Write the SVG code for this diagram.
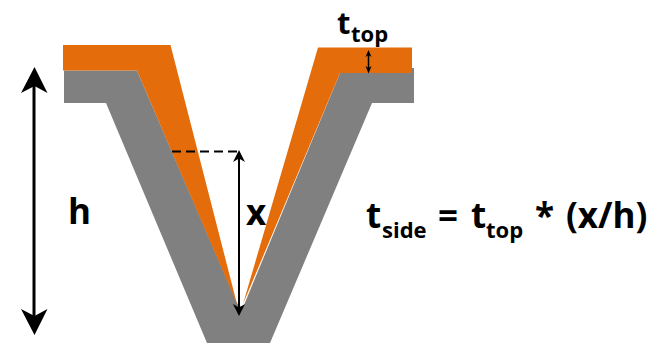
<svg xmlns="http://www.w3.org/2000/svg" width="667" height="343" viewBox="0 0 667 343">
<style>
text{font-family:"Open Sans","Noto Sans",sans-serif;font-weight:700;fill:#000}
.m{font-size:35px}.s{font-size:22px}
.a{stroke:#000;fill:none}
.h{fill:#000;stroke:none}
</style>
<rect width="667" height="343" fill="#fff"/>
<g id="gray-layer"><path d="M64 70.500H137L237 303L241 307L244 305L340 73H412V68H414V103H372L270 343H207L106 103H64Z" fill="#808080"/></g>
<g id="orange-left"><path d="M63 45H170.500L237 304L137 70.500H63Z" fill="#e46c0a"/></g>
<g id="orange-right"><path d="M318 47.500H412V73H340L243 304Z" fill="#e46c0a"/></g>
<g id="connectors">
<path class="a" stroke-width="3" d="M34 86V318"/>
<path class="h" d="M34.500 67L47.500 93L34.500 86L21 93Z"/>
<path class="h" d="M34.500 335L47.500 309L34.500 316L21 309Z"/>
<path class="a" stroke-width="2" stroke-dasharray="9 5" d="M172 151.500H238"/>
<path class="a" stroke-width="2" d="M239 158V308"/>
<path class="h" d="M239 150L245 162L239 158.500L233 162Z"/>
<path class="h" d="M239 316L245 304L239 307.500L233 304Z"/>
<path class="a" stroke-width="1.500" d="M368.500 54V68"/>
<path class="h" d="M368.500 50L371.500 57L368.500 55L365.500 57Z"/>
<path class="h" d="M368.500 73.500L371.500 66L368.500 68L365.500 66Z"/>
</g>
<g id="labels">
<text id="label-ttop" x="337" y="33.500" font-size="31">t<tspan class="s" x="351" y="42">top</tspan></text>
<text id="label-h" x="68" y="224" class="m">h</text>
<text id="label-x" x="246" y="225" class="m">x</text>
<text id="label-eq" x="366" y="228" class="m">t<tspan class="s" x="382" y="238">side</tspan><tspan x="438" y="228">=</tspan><tspan x="471" y="228">t</tspan><tspan class="s" x="486" y="238">top</tspan><tspan x="535" y="228">*</tspan><tspan x="566" y="228">(x/h)</tspan></text>
</g>
</svg>
